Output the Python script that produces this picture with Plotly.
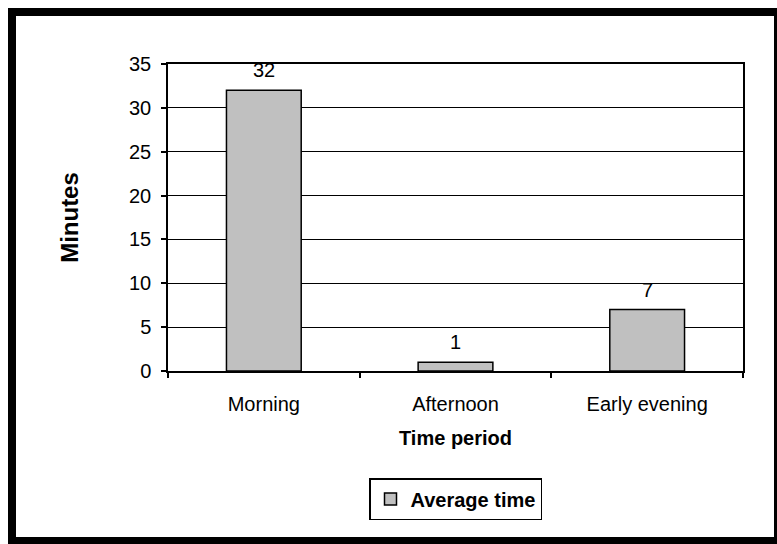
import plotly.graph_objects as go

categories = ["Morning", "Afternoon", "Early evening"]
values = [32, 1, 7]
series_name = "Average time"
y_ticks = [0, 5, 10, 15, 20, 25, 30, 35]

W, H = 777, 544
L, R, T, B = 168, 34, 64, 173
pw, ph = W - L - R, H - T - B

def px_x(p):
    return (p - L) / pw

def px_y(p):
    return (H - B - p) / ph

font = dict(family="Liberation Sans, Arial, sans-serif", size=20, color="black")
ytitle_font = dict(family="Liberation Sans, Arial, sans-serif", size=24, color="black")

fig = go.Figure()
fig.add_trace(go.Bar(
    x=categories, y=values, name=series_name,
    marker=dict(color="#C0C0C0", line=dict(color="black", width=1.5)),
    showlegend=True,
))

for c, v in zip(categories, values):
    fig.add_annotation(x=c, y=v, text=str(v), showarrow=False,
                       yanchor="middle", yshift=20, font=font)

fig.add_shape(type="rect", xref="paper", yref="paper",
              x0=px_x(12), x1=px_x(778), y0=px_y(541), y1=px_y(12),
              line=dict(color="black", width=8), fillcolor="rgba(0,0,0,0)")

fig.update_layout(
    width=W, height=H,
    margin=dict(l=L, r=R, t=T, b=B, autoexpand=False),
    paper_bgcolor="white", plot_bgcolor="white",
    font=font,
    bargap=0.61,
    showlegend=True,
    legend=dict(x=0.5, xanchor="center", y=px_y(478), yanchor="top",
                orientation="h", bordercolor="black", borderwidth=1.5,
                font=dict(family="Liberation Sans, Arial, sans-serif", size=20,
                          color="black", weight="bold"),
                bgcolor="white"),
    xaxis=dict(
        showline=True, linecolor="black", linewidth=1.5, mirror=True,
        ticks="outside", tickson="boundaries", ticklen=5, tickcolor="black",
        tickwidth=1.5, ticklabelstandoff=14,
        title=dict(text="<b>Time period</b>", standoff=17, font=font),
        automargin=False,
    ),
    yaxis=dict(
        range=[0, 35], tickvals=y_ticks,
        showline=True, linecolor="black", linewidth=1.5, mirror=True,
        showgrid=True, gridcolor="black", gridwidth=1,
        ticks="outside", ticklen=5, tickcolor="black", tickwidth=1.5,
        ticklabelstandoff=6, zeroline=False,
        title=dict(text="<b>Minutes</b>", standoff=44, font=ytitle_font),
        automargin=False,
    ),
)

fig.write_html("out.html")
